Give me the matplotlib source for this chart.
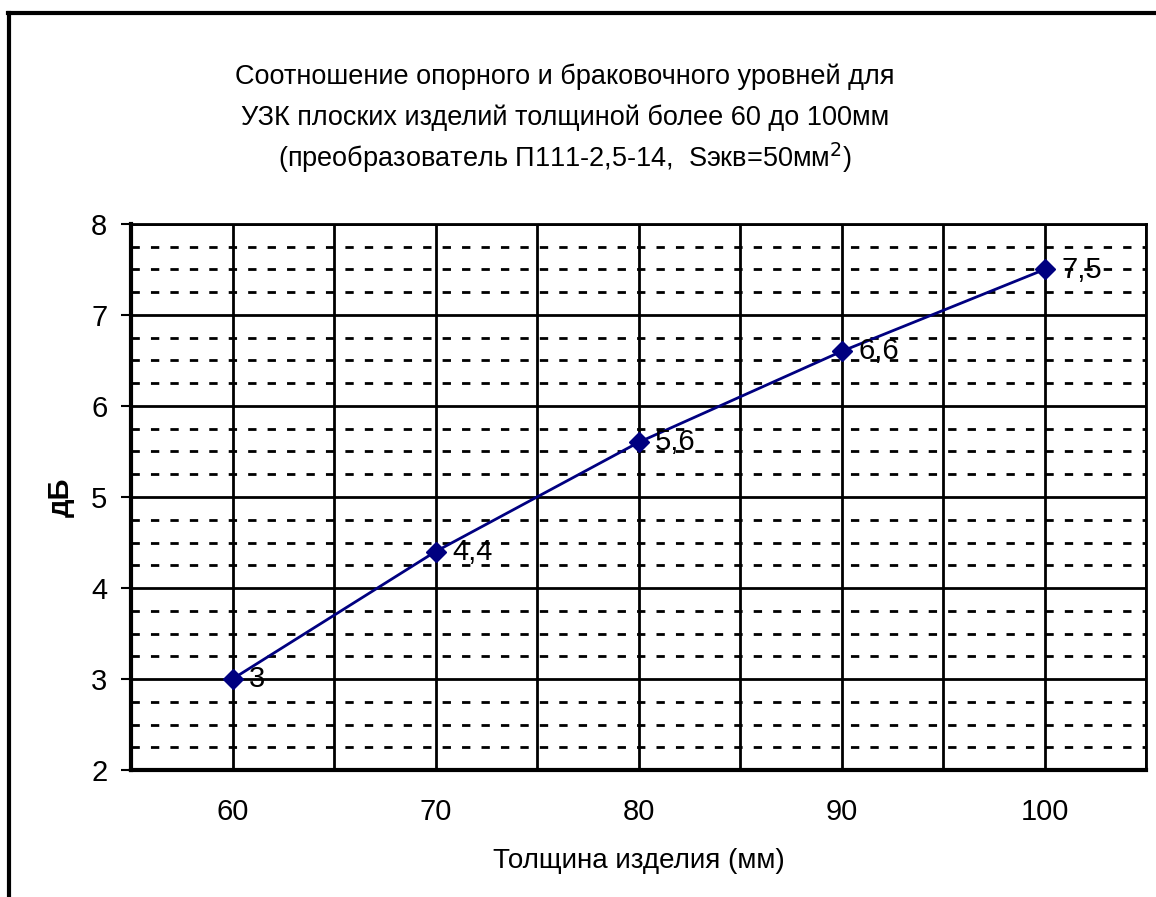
import matplotlib
matplotlib.use("Agg")
import matplotlib.pyplot as plt
from matplotlib.lines import Line2D
import numpy as np

plt.rcParams['font.family'] = ['Liberation Sans', 'DejaVu Sans']

thickness = [60, 70, 80, 90, 100]
db_values = [3, 4.4, 5.6, 6.6, 7.5]
value_labels = ["3", "4,4", "5,6", "6,6", "7,5"]
x_ticks = [60, 70, 80, 90, 100]
y_ticks = [2, 3, 4, 5, 6, 7, 8]

title_lines = ["Соотношение опорного и браковочного уровней для",
               "УЗК плоских изделий толщиной более 60 до 100мм",
               "(преобразователь П111-2,5-14,  Sэкв=50мм$^2$)"]
x_label = "Толщина изделия (мм)"
y_label = "дБ"

W, H = 1156, 897
fig = plt.figure(figsize=(W / 100, H / 100), dpi=100)
ax = fig.add_axes([131 / W, (H - 770) / H, (1146 - 131) / W, (770 - 224) / H])

ax.set_xlim(55, 105)
ax.set_ylim(2, 8)

# grid
for y in np.arange(2, 8.01, 0.25):
    if abs(y - round(y)) < 1e-9:
        ax.axhline(y, color='black', lw=2, zorder=1)
    else:
        ax.axhline(y, color='black', lw=2, ls=(0, (3, 4)), zorder=1)
for x in np.arange(55, 105.01, 5):
    ax.axvline(x, color='black', lw=2, zorder=1)

ax.plot(thickness, db_values, color='#000080', lw=2, marker='D', ms=10,
        markerfacecolor='#000080', markeredgecolor='#000080', zorder=3)
for x, y, t in zip(thickness, db_values, value_labels):
    ax.annotate(t, (x, y), xytext=(12, 0), textcoords='offset points',
                va='center', ha='left', fontsize=21, zorder=4)

ax.set_xticks(x_ticks)
ax.set_xticklabels([str(v) for v in x_ticks], fontsize=21)
ax.set_yticks(y_ticks)
ax.set_yticklabels([str(v) for v in y_ticks], fontsize=21)
ax.tick_params(axis='x', length=0, pad=20)
ax.tick_params(axis='y', direction='out', length=7, width=1.5, pad=10)
for s in ax.spines.values():
    s.set_linewidth(2)
ax.spines['left'].set_linewidth(3)
ax.spines['bottom'].set_linewidth(3)

ax.set_xlabel(x_label, fontsize=20, labelpad=16)
ax.set_ylabel(y_label, fontsize=21, fontweight='bold', labelpad=12)

for i, line in enumerate(title_lines):
    fig.text(565 / W, 1 - (77 + i * 40.5) / H, line, ha='center', va='center', fontsize=19.5)

# outer frame
fig.add_artist(Line2D([8 / W, 1], [1 - 13 / H, 1 - 13 / H], color='black', lw=3, transform=fig.transFigure))
fig.add_artist(Line2D([9 / W, 9 / W], [0, 1 - 13 / H], color='black', lw=3, transform=fig.transFigure))

fig.savefig("out.png", dpi=100)
